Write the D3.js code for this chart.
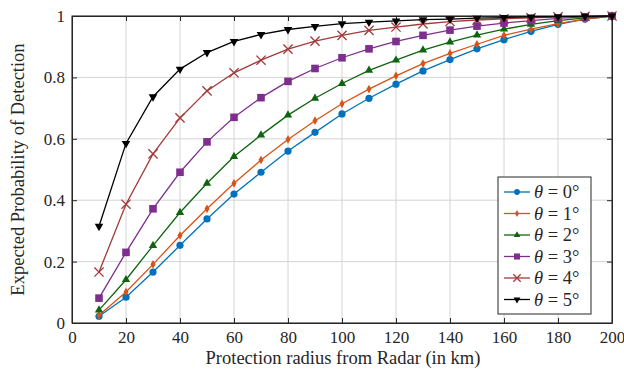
<!DOCTYPE html>
<html>
<head>
<meta charset="utf-8">
<script src="https://cdn.jsdelivr.net/npm/d3@7"></script>
<style>
  body { margin: 0; background: #fff; }
</style>
</head>
<body>
<div id="chart-area"></div>
<script>
// Data
const radius = [10, 20, 30, 40, 50, 60, 70, 80, 90, 100, 110, 120, 130, 140, 150, 160, 170, 180, 190, 200];
const theta0 = [0.022, 0.084, 0.166, 0.253, 0.339, 0.420, 0.491, 0.560, 0.621, 0.681, 0.732, 0.778, 0.821, 0.858, 0.893, 0.923, 0.950, 0.973, 0.990, 1];
const theta1 = [0.025, 0.101, 0.191, 0.285, 0.372, 0.455, 0.531, 0.598, 0.659, 0.714, 0.762, 0.805, 0.845, 0.878, 0.908, 0.937, 0.957, 0.975, 0.990, 1];
const theta2 = [0.042, 0.141, 0.252, 0.360, 0.455, 0.542, 0.612, 0.677, 0.732, 0.780, 0.823, 0.856, 0.889, 0.915, 0.938, 0.957, 0.973, 0.985, 0.994, 1];
const theta3 = [0.081, 0.230, 0.372, 0.491, 0.590, 0.670, 0.734, 0.787, 0.829, 0.864, 0.893, 0.917, 0.937, 0.954, 0.967, 0.977, 0.985, 0.992, 0.997, 1];
const theta4 = [0.166, 0.387, 0.551, 0.668, 0.756, 0.815, 0.856, 0.892, 0.918, 0.937, 0.953, 0.964, 0.974, 0.982, 0.987, 0.991, 0.994, 0.997, 0.999, 1];
const theta5 = [0.315, 0.585, 0.737, 0.827, 0.881, 0.917, 0.940, 0.956, 0.966, 0.975, 0.980, 0.984, 0.988, 0.990, 0.993, 0.995, 0.997, 0.998, 0.999, 1];
const seriesNames = ["0", "1", "2", "3", "4", "5"];
const xTicks = [0, 20, 40, 60, 80, 100, 120, 140, 160, 180, 200];
const yTicks = [0, 0.2, 0.4, 0.6, 0.8, 1];

const seriesValues = [theta0, theta1, theta2, theta3, theta4, theta5];
const colors = ["#0072BD", "#D95319", "#0f650f", "#7E2F8E", "#a23a3a", "#000000"];
const shapes = ["circle", "diamond", "triUp", "square", "cross", "triDown"];
const serif = "'Liberation Serif', 'Times New Roman', serif";

// Dimensions
const margin = { left: 72, right: 12, top: 16, bottom: 46 };
const width = 624 - margin.left - margin.right;
const height = 369 - margin.top - margin.bottom;

const svg = d3.select("#chart-area")
  .append("svg")
    .attr("width", 624)
    .attr("height", 369);
const chart = svg.append("g")
  .attr("transform", "translate(" + margin.left + "," + margin.top + ")");

const xScale = d3.scaleLinear().domain([0, 200]).range([0, width]);
const yScale = d3.scaleLinear().domain([0, 1]).range([height, 0]);

// grid
chart.append("g")
  .selectAll("line").data(xTicks).enter().append("line")
    .attr("x1", d => xScale(d)).attr("x2", d => xScale(d))
    .attr("y1", 0).attr("y2", height)
    .attr("stroke", "#d4d4d4").attr("stroke-width", 1);
chart.append("g")
  .selectAll("line").data(yTicks).enter().append("line")
    .attr("y1", d => yScale(d)).attr("y2", d => yScale(d))
    .attr("x1", 0).attr("x2", width)
    .attr("stroke", "#d4d4d4").attr("stroke-width", 1);

// axes (ticks inward on all sides)
const fmt = d => d === 0 ? "0" : d === 1 ? "1" : d3.format(".1f")(d);
chart.append("g").attr("transform", "translate(0," + height + ")")
  .call(d3.axisBottom(xScale).tickValues(xTicks).tickSizeInner(-5).tickSizeOuter(0).tickPadding(8));
chart.append("g")
  .call(d3.axisLeft(yScale).tickValues(yTicks).tickFormat(fmt).tickSizeInner(-5).tickSizeOuter(0).tickPadding(7));
chart.append("g").attr("transform", "translate(" + width + ",0)")
  .call(d3.axisRight(yScale).tickValues(yTicks).tickSizeInner(-5).tickSizeOuter(0).tickFormat(""));
chart.append("g")
  .call(d3.axisTop(xScale).tickValues(xTicks).tickSizeInner(-5).tickSizeOuter(0).tickFormat(""));
chart.selectAll(".domain").attr("stroke", "#262626");
chart.selectAll(".tick line").attr("stroke", "#262626");
chart.selectAll(".tick text").attr("font-size", "17px").attr("fill", "#262626");
chart.append("rect").attr("width", width).attr("height", height)
  .attr("fill", "none").attr("stroke", "#262626").attr("stroke-width", 1);

// labels
svg.append("text")
  .attr("x", margin.left + width / 2 + 1).attr("y", 364)
  .attr("text-anchor", "middle").attr("font-size", "18.5px").attr("fill", "#262626")
  .text("Protection radius from Radar (in km)");
svg.append("text")
  .attr("transform", "translate(24," + (margin.top + height / 2) + ") rotate(-90)")
  .attr("text-anchor", "middle").attr("font-size", "18.5px").attr("fill", "#262626")
  .text("Expected Probability of Detection");

// marker drawing
function drawMarker(g, shape, color, s) {
  if (shape === "circle") {
    g.append("circle").attr("r", 3.6 * s).attr("fill", color);
  } else if (shape === "diamond") {
    g.append("path").attr("d", d3.symbol(d3.symbolDiamond, 22 * s * s)()).attr("fill", color);
  } else if (shape === "triUp") {
    g.append("path").attr("d", d3.symbol(d3.symbolTriangle, 30 * s * s)()).attr("fill", color);
  } else if (shape === "square") {
    g.append("rect").attr("x", -3.8 * s).attr("y", -3.8 * s).attr("width", 7.6 * s).attr("height", 7.6 * s).attr("fill", color);
  } else if (shape === "cross") {
    const r = 4.6 * s;
    g.append("path").attr("d", "M" + (-r) + "," + (-r) + "L" + r + "," + r + "M" + (-r) + "," + r + "L" + r + "," + (-r))
      .attr("stroke", color).attr("stroke-width", 1.3).attr("fill", "none");
  } else if (shape === "triDown") {
    g.append("path").attr("d", d3.symbol(d3.symbolTriangle, 32 * s * s)()).attr("transform", "rotate(180)").attr("fill", color);
  }
}

const line = d3.line().x(d => xScale(d[0])).y(d => yScale(d[1]));

seriesValues.forEach((vals, i) => {
  const pts = radius.map((r, j) => [r, vals[j]]);
  chart.append("path").datum(pts)
    .attr("d", line).attr("fill", "none")
    .attr("stroke", colors[i]).attr("stroke-width", 1.3);
  pts.forEach(p => {
    const g = chart.append("g").attr("transform", "translate(" + xScale(p[0]) + "," + yScale(p[1]) + ")");
    drawMarker(g, shapes[i], colors[i], 1);
  });
});

// legend
const legend = svg.append("g").attr("transform", "translate(498,177)");
legend.append("rect").attr("width", 93).attr("height", 137)
  .attr("fill", "#fff").attr("stroke", "#262626").attr("stroke-width", 1);
seriesNames.forEach((name, i) => {
  const yy = 15 + i * 21.5;
  legend.append("line").attr("x1", 6).attr("x2", 32).attr("y1", yy).attr("y2", yy)
    .attr("stroke", colors[i]).attr("stroke-width", 1.3);
  const g = legend.append("g").attr("transform", "translate(19," + yy + ")");
  drawMarker(g, shapes[i], colors[i], 0.8);
  const t = legend.append("text").attr("x", 36).attr("y", yy + 6)
    .attr("font-size", "18.5px").attr("fill", "#262626");
  t.append("tspan").attr("font-style", "italic").text("θ");
  t.append("tspan").text(" = " + name + "°");
});

// serif everywhere
svg.selectAll("text").style("font-family", serif);
</script>
</body>
</html>
